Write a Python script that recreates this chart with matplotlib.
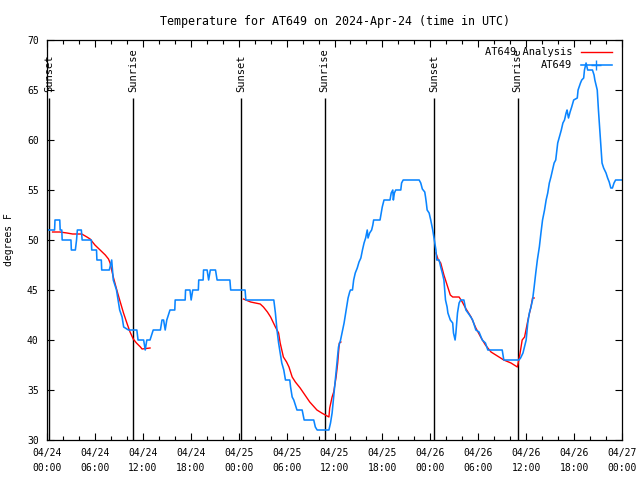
import matplotlib
matplotlib.use("Agg")
import matplotlib.pyplot as plt
from matplotlib.lines import Line2D

# hours since 2024-04-24 00:00 UTC, temperature in F
obs_hours = [0.0, 0.95, 1.0, 1.6, 1.65, 1.85, 1.9, 3.0, 3.05, 3.55, 3.7, 3.8, 4.3, 4.4, 5.55, 5.6,
             6.2, 6.25, 6.8, 6.85, 7.8, 8.1, 8.3, 8.5, 8.7, 8.9, 9.1, 9.4, 9.6, 10.2, 11.25, 11.4,
             12.1, 12.3, 12.5, 12.9, 13.3, 14.2, 14.4, 14.6, 14.8, 15.0, 15.4, 16.0, 16.05, 17.3,
             17.35, 17.9, 18.05, 18.25, 18.95, 19.0, 19.55, 19.6, 20.05, 20.24, 20.45, 21.1, 21.3,
             22.9, 23.0, 24.8, 24.9, 28.4, 28.6, 28.8, 29.0, 29.2, 29.4, 29.65, 29.86, 30.4, 30.5,
             30.7, 30.9, 31.3, 31.95, 32.2, 33.4, 33.6, 33.83, 35.3, 35.5, 35.7, 35.9, 36.1, 36.3,
             36.5, 36.76, 37.2, 37.5, 37.7, 37.9, 38.0, 38.25, 38.4, 38.6, 38.85, 39.07, 39.3, 39.5,
             39.7, 39.9, 40.1, 40.2, 40.4, 40.65, 40.8, 40.9, 41.7, 41.85, 41.98, 42.2, 42.95, 43.1,
             43.3, 43.37, 43.5, 43.67, 44.3, 44.4, 44.6, 46.6, 46.8, 47.0, 47.3, 47.4, 47.5, 47.6,
             47.85, 48.05, 48.3, 48.5, 48.7, 48.8, 49.1, 49.3, 49.5, 49.7, 49.9, 50.1, 50.2, 50.5,
             50.8, 50.9, 51.1, 51.2, 51.4, 51.6, 51.8, 52.2, 52.45, 52.9, 53.3, 53.7, 54.1, 54.5,
             54.9, 55.2, 57.0, 57.2, 59.1, 59.3, 59.6, 60.0, 60.2, 60.4, 60.6, 60.8, 61.0, 61.2,
             61.4, 61.65, 61.85, 62.05, 62.3, 62.5, 62.7, 62.9, 63.1, 63.3, 63.5, 63.7, 63.95,
             64.16, 64.4, 64.6, 64.8, 65.0, 65.12, 65.3, 65.5, 65.7, 65.95, 66.4, 66.5, 66.8,
             66.96, 67.2, 67.3, 67.5, 67.7, 68.3, 68.5, 68.6, 68.9, 69.05, 69.3, 69.5, 69.7, 70.0,
             70.2, 70.4, 70.6, 70.8, 71.0, 71.2, 72.0]
obs_temps = [51, 51, 52, 52, 51, 51, 50, 50, 49, 49, 50, 51, 51, 50, 50, 49,
             49, 48, 48, 47, 47, 48, 46, 45.5, 45, 44, 43, 42.3, 41.3, 41, 41, 40,
             40, 39, 40, 40, 41, 41, 42, 42, 41, 42, 43, 43, 44, 44,
             45, 45, 44, 45, 45, 46, 46, 47, 47, 46, 47, 47, 46,
             46, 45, 45, 44, 44, 42.7, 41, 39.7, 38.7, 37.7, 37, 36, 36, 35.3,
             34.3, 34, 33, 33, 32, 32, 31.3, 31, 31, 31.7, 32.7, 34.3, 36, 37.7,
             39.3, 40, 41.7, 43.2, 44.2, 44.8, 45, 45, 46, 46.7, 47.2, 47.8, 48.2, 49,
             49.7, 50.2, 51, 50.2, 50.7, 51, 51.5, 52, 52, 52.7, 53.3, 54, 54, 54.7,
             55, 54, 54.7, 55, 55, 55.7, 56, 56, 55.7, 55.1, 54.8, 54.3, 53.7, 53,
             52.7, 52, 51, 50, 49, 48, 48, 47.3, 46.7, 46, 44, 43.3, 42.7, 42,
             41.7, 40.7, 40, 40.7, 42.7, 43.7, 44, 44, 43, 42.5, 42, 41, 40.8, 40,
             39.7, 39, 39, 38, 38, 38.2, 38.7, 40, 41.7, 42.7, 43.3, 44, 45.3, 46.7,
             48, 49.3, 50.7, 52, 53, 54, 54.7, 55.7, 56.3, 57, 57.7, 58, 59.7,
             60.3, 61, 61.7, 62, 62.7, 63, 62.2, 62.8, 63.3, 64, 64.2, 65, 65.7,
             66, 66.2, 67, 67.7, 67, 67, 66.5, 66, 65, 63, 60, 57.7, 57.2, 56.7,
             56.2, 55.8, 55.2, 55.2, 55.7, 56, 56]

# analysis runs, one per morning
ana1_hours = [0.7, 1.6, 2.5, 3.2, 4.35, 5.0, 5.4, 6.0, 6.65, 7.3, 7.7, 7.9, 8.3, 8.74, 9.1,
              9.58, 10.0, 10.4, 10.8, 11.2, 11.7, 11.9, 12.9]
ana1_temps = [50.8, 50.8, 50.7, 50.6, 50.6, 50.3, 50.1, 49.5, 49, 48.5, 48.1, 47.7, 46.3, 45, 44,
              42.7, 41.7, 40.8, 40.1, 39.7, 39.3, 39.1, 39.2]
ana2_hours = [24.6, 25.5, 26.7, 27.1, 27.6, 28.0, 28.6, 29.0, 29.2, 29.6, 30.0, 30.3, 30.7,
              31.1, 31.7, 32.3, 32.9, 33.8, 34.4, 35.3, 35.4, 35.7, 35.9, 36.2, 36.4, 36.6, 36.8]
ana2_temps = [44.1, 43.8, 43.6, 43.3, 42.8, 42.3, 41.3, 40.7, 39.7, 38.3, 37.8, 37.3, 36.3,
              35.8, 35.2, 34.5, 33.8, 33, 32.7, 32.3, 33.2, 34.3, 34.8, 36.3, 37.7, 39.7, 39.8]
ana3_hours = [48.7, 49.0, 49.3, 49.7, 50.1, 50.5, 50.8, 51.6, 52.0, 52.4, 53.1, 53.7, 54.3,
              54.9, 55.6, 56.4, 57.2, 58.1, 58.9, 59.2, 59.5, 59.8, 60.3, 60.6, 60.8, 61.0]
ana3_temps = [48.7, 48, 47.7, 46.5, 45.5, 44.5, 44.3, 44.3, 43.8, 43.2, 42.3, 41.2, 40.3,
              39.5, 38.8, 38.4, 38, 37.7, 37.3, 38.5, 40, 40.3, 42.3, 43.3, 44.2, 44.2]

sunset_hours = [0.29, 24.34, 48.47]
sunrise_hours = [10.83, 34.75, 58.93]

tick_labels = ["04/24\n00:00", "04/24\n06:00", "04/24\n12:00", "04/24\n18:00",
               "04/25\n00:00", "04/25\n06:00", "04/25\n12:00", "04/25\n18:00",
               "04/26\n00:00", "04/26\n06:00", "04/26\n12:00", "04/26\n18:00",
               "04/27\n00:00"]

blue = "#0a85ff"
plt.rcParams["font.family"] = "DejaVu Sans Mono"
plt.rcParams["font.size"] = 7

fig = plt.figure(figsize=(6.4, 4.8), dpi=100)
ax = fig.add_axes([47 / 640, 40 / 480, 575 / 640, 400 / 480])

# sunrise / sunset markers
for h in sunset_hours:
    ax.vlines(h, 30, 64.2, color="black", lw=1.0)
    ax.text(h, 64.8, "Sunset", rotation=90, ha="center", va="bottom", fontsize=7.5)
for h in sunrise_hours:
    ax.vlines(h, 30, 64.2, color="black", lw=1.0)
    ax.text(h, 64.8, "Sunrise", rotation=90, ha="center", va="bottom", fontsize=7.5)

for hh, tt in [(ana1_hours, ana1_temps), (ana2_hours, ana2_temps), (ana3_hours, ana3_temps)]:
    ax.plot(hh, tt, color="red", lw=1.0)
ax.plot(obs_hours, obs_temps, color=blue, lw=1.15)

ax.set_xlim(0, 72)
ax.set_ylim(30, 70)
ax.set_xticks(range(0, 73, 6))
ax.set_xticklabels(tick_labels, linespacing=1.6)
ax.set_xticks(range(0, 73, 2), minor=True)
ax.set_yticks(range(30, 71, 5))
ax.tick_params(which="both", direction="in", top=True, right=True, width=0.8)
ax.tick_params(which="major", length=5, pad=6)
ax.tick_params(which="minor", length=3)
for s in ax.spines.values():
    s.set_linewidth(0.9)

ax.set_ylabel("degrees F", labelpad=9)
ax.set_title("Temperature for AT649 on 2024-Apr-24 (time in UTC)", pad=11)

handles = [Line2D([], [], color="red", lw=1.0),
           Line2D([], [], color=blue, lw=1.15, marker="+", markersize=7)]
ax.legend(handles, ["AT649 Analysis", "AT649"], loc="upper right", frameon=False,
          markerfirst=False, handlelength=3.0, borderaxespad=0.3, labelspacing=0.3,
          fontsize=7.5, bbox_to_anchor=(0.995, 1.0))

fig.savefig("out.png", dpi=100)
